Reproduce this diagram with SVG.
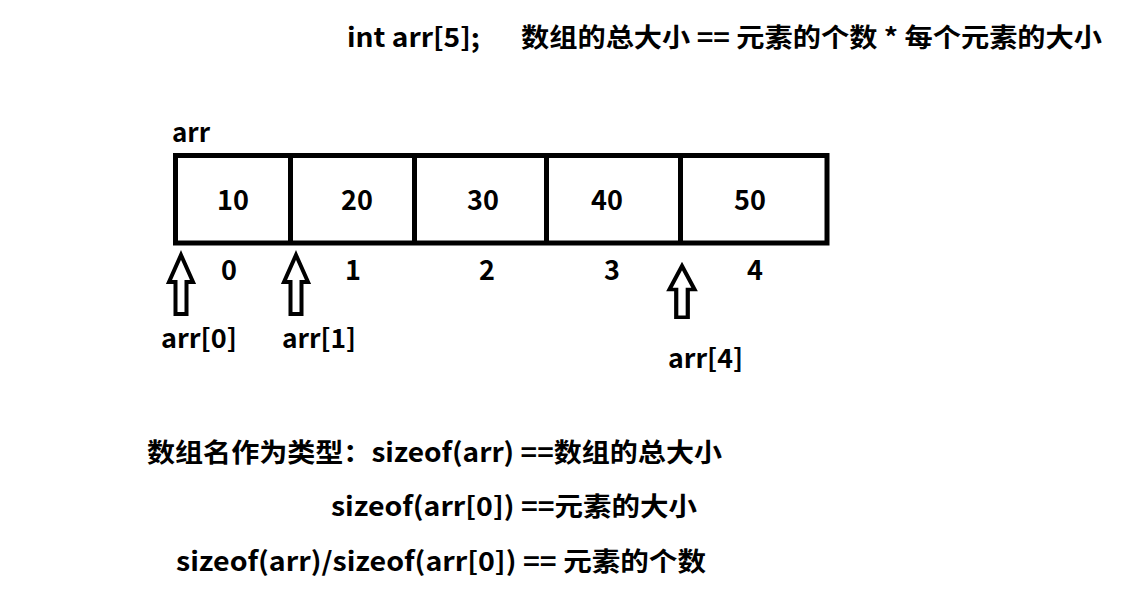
<svg xmlns="http://www.w3.org/2000/svg" width="1133" height="613" viewBox="0 0 1133 613">
<style>
text{font-family:"Noto Sans CJK SC","Noto Sans",sans-serif;font-weight:bold;fill:#000;}
.t{font-size:26px;}
.n{font-size:27px;text-anchor:middle;}
.cell{fill:none;stroke:#000;stroke-width:5;}
.arrow{fill:#fff;stroke:#000;stroke-width:4;stroke-linejoin:miter;}
</style>
<defs>
<path id="up" d="M0,0 L12,27 L5.5,27 L5.5,59 L-5.5,59 L-5.5,27 L-12,27 Z"/>
</defs>
<rect width="1133" height="613" fill="#fff"/>
<g id="title">
<text class="t" x="347" y="47" textLength="133" lengthAdjust="spacingAndGlyphs">int arr[5];</text>
<text class="t" x="521" y="47" textLength="581" lengthAdjust="spacingAndGlyphs">数组的总大小 == 元素的个数 * 每个元素的大小</text>
</g>
<g id="array">
<text class="t" x="172" y="142" textLength="38" lengthAdjust="spacingAndGlyphs">arr</text>
<rect class="cell" x="175.5" y="155.5" width="651.5" height="87.5"/>
<line class="cell" x1="290.5" y1="155.5" x2="290.5" y2="243"/>
<line class="cell" x1="414.5" y1="155.5" x2="414.5" y2="243"/>
<line class="cell" x1="546.5" y1="155.5" x2="546.5" y2="243"/>
<line class="cell" x1="680.5" y1="155.5" x2="680.5" y2="243"/>
<text class="n" x="233" y="210">10</text>
<text class="n" x="357" y="210">20</text>
<text class="n" x="483" y="210">30</text>
<text class="n" x="607" y="210">40</text>
<text class="n" x="750" y="210">50</text>
</g>
<g id="indices">
<text class="n" x="229" y="280">0</text>
<text class="n" x="353" y="280">1</text>
<text class="n" x="487" y="280">2</text>
<text class="n" x="612" y="280">3</text>
<text class="n" x="755" y="280">4</text>
</g>
<g id="connectors">
<use href="#up" class="arrow" transform="translate(181,255)"/>
<use href="#up" class="arrow" transform="translate(296,255)"/>
<use href="#up" class="arrow" transform="translate(682,266) scale(1.05,0.87)"/>
</g>
<g id="labels">
<text class="t" x="161" y="348" textLength="76" lengthAdjust="spacingAndGlyphs">arr[0]</text>
<text class="t" x="282" y="348" textLength="74" lengthAdjust="spacingAndGlyphs">arr[1]</text>
<text class="t" x="668" y="368" textLength="75" lengthAdjust="spacingAndGlyphs">arr[4]</text>
</g>
<g id="notes">
<text class="t" x="147" y="462" textLength="575" lengthAdjust="spacingAndGlyphs">数组名作为类型：sizeof(arr) ==数组的总大小</text>
<text class="t" x="331" y="516" textLength="366" lengthAdjust="spacingAndGlyphs">sizeof(arr[0]) ==元素的大小</text>
<text class="t" x="176" y="571" textLength="530" lengthAdjust="spacingAndGlyphs">sizeof(arr)/sizeof(arr[0]) == 元素的个数</text>
</g>
</svg>
